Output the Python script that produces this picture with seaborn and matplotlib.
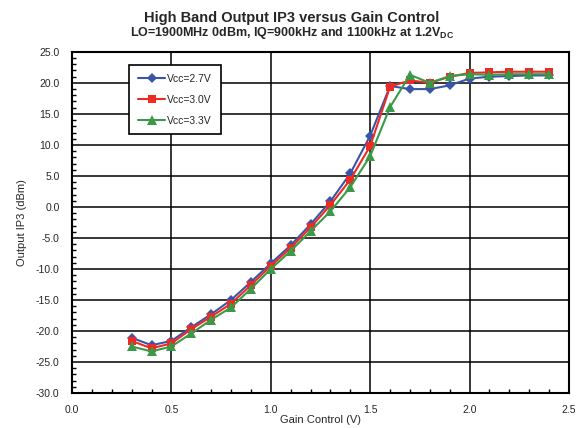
import numpy as np
import pandas as pd
import matplotlib
matplotlib.use("Agg")
import matplotlib.pyplot as plt
from matplotlib.ticker import MultipleLocator, FormatStrFormatter
import seaborn as sns

###############################################
# data
###############################################
gain_v = [0.3, 0.4, 0.5, 0.6, 0.7, 0.8, 0.9, 1.0, 1.1, 1.2, 1.3,
          1.4, 1.5, 1.6, 1.7, 1.8, 1.9, 2.0, 2.1, 2.2, 2.3, 2.4]

ip3_27 = [-21.1, -22.3, -21.6, -19.4, -17.3, -15.0, -12.1, -9.1, -6.2, -2.8, 0.9,
          5.4, 11.5, 19.5, 19.0, 19.0, 19.6, 20.7, 21.0, 21.1, 21.2, 21.2]
ip3_30 = [-21.6, -22.8, -22.0, -19.7, -17.7, -15.6, -12.6, -9.5, -6.6, -3.3, 0.3,
          4.4, 9.8, 19.4, 20.4, 20.0, 21.0, 21.6, 21.7, 21.8, 21.8, 21.8]
ip3_33 = [-22.5, -23.3, -22.5, -20.4, -18.2, -16.2, -13.2, -10.0, -7.1, -3.9, -0.7,
          3.2, 8.2, 16.1, 21.3, 20.0, 21.1, 21.4, 21.3, 21.4, 21.4, 21.4]

series_names = ["Vcc=2.7V", "Vcc=3.0V", "Vcc=3.3V"]
series_colors = ["#3A55A8", "#EE2A24", "#3A9A48"]
series_markers = ["D", "s", "^"]
marker_sizes = [4.8, 5.6, 6.6]

df = pd.concat(
    [
        pd.DataFrame({"gain": gain_v, "ip3": vals, "vcc": name})
        for name, vals in zip(series_names, [ip3_27, ip3_30, ip3_33])
    ],
    ignore_index=True,
)

###############################################
# plot
###############################################
sns.set_style("white")
plt.rcParams["font.family"] = ["Liberation Sans", "DejaVu Sans"]
plt.rcParams["mathtext.fontset"] = "custom"
plt.rcParams["mathtext.bf"] = "Liberation Sans:bold"

fig = plt.figure(figsize=(5.84, 4.28), dpi=100)
ax = fig.add_axes([0.1233, 0.0818, 0.851, 0.797])

sns.lineplot(
    data=df,
    x="gain",
    y="ip3",
    hue="vcc",
    style="vcc",
    palette=dict(zip(series_names, series_colors)),
    markers=dict(zip(series_names, series_markers)),
    dashes=False,
    markersize=6,
    markeredgewidth=0,
    linewidth=1.5,
    ax=ax,
    zorder=3,
)

ax.set_xlim(0, 2.5)
ax.set_ylim(-30, 25)
ax.xaxis.set_major_locator(MultipleLocator(0.5))
ax.xaxis.set_minor_locator(MultipleLocator(0.1))
ax.yaxis.set_major_locator(MultipleLocator(5))
ax.yaxis.set_minor_locator(MultipleLocator(1))
ax.xaxis.set_major_formatter(FormatStrFormatter("%.1f"))
ax.yaxis.set_major_formatter(FormatStrFormatter("%.1f"))

ax.grid(True, which="major", color="black", linewidth=1.1)
ax.tick_params(which="major", direction="out", length=4, width=1.2,
               labelsize=7.5, color="black", pad=5)
ax.tick_params(which="minor", direction="in", length=3, width=1.0,
               color="black", left=True, bottom=True)
for s in ax.spines.values():
    s.set_color("black")
    s.set_linewidth(1.5)

ax.set_xlabel("Gain Control (V)", fontsize=8, labelpad=0)
ax.set_ylabel("Output IP3 (dBm)", fontsize=8, labelpad=6)

fig.text(0.5, 0.957, "High Band Output IP3 versus Gain Control",
         ha="center", va="center", fontsize=10.5, fontweight="bold")
fig.text(0.5, 0.922,
         r"LO=1900MHz 0dBm, IQ=900kHz and 1100kHz at 1.2V$_{\mathbf{DC}}$",
         ha="center", va="center", fontsize=9, fontweight="bold")

leg = ax.legend(
    loc="upper left",
    bbox_to_anchor=(0.115, 0.962),
    fontsize=7.5,
    frameon=True,
    fancybox=False,
    edgecolor="black",
    handlelength=2.6,
    labelspacing=1.05,
    borderpad=0.85,
    handletextpad=0.2,
    borderaxespad=0,
)
leg.get_frame().set_linewidth(1.2)
leg.get_frame().set_alpha(1)

# diamonds drawn a bit smaller, triangles a bit larger, as in the reference
size_by_marker = dict(zip(series_markers, marker_sizes))
for line in list(ax.get_lines()) + list(leg.get_lines()):
    m = line.get_marker()
    if m in size_by_marker:
        line.set_markersize(size_by_marker[m])

fig.savefig("out.png", dpi=100)
